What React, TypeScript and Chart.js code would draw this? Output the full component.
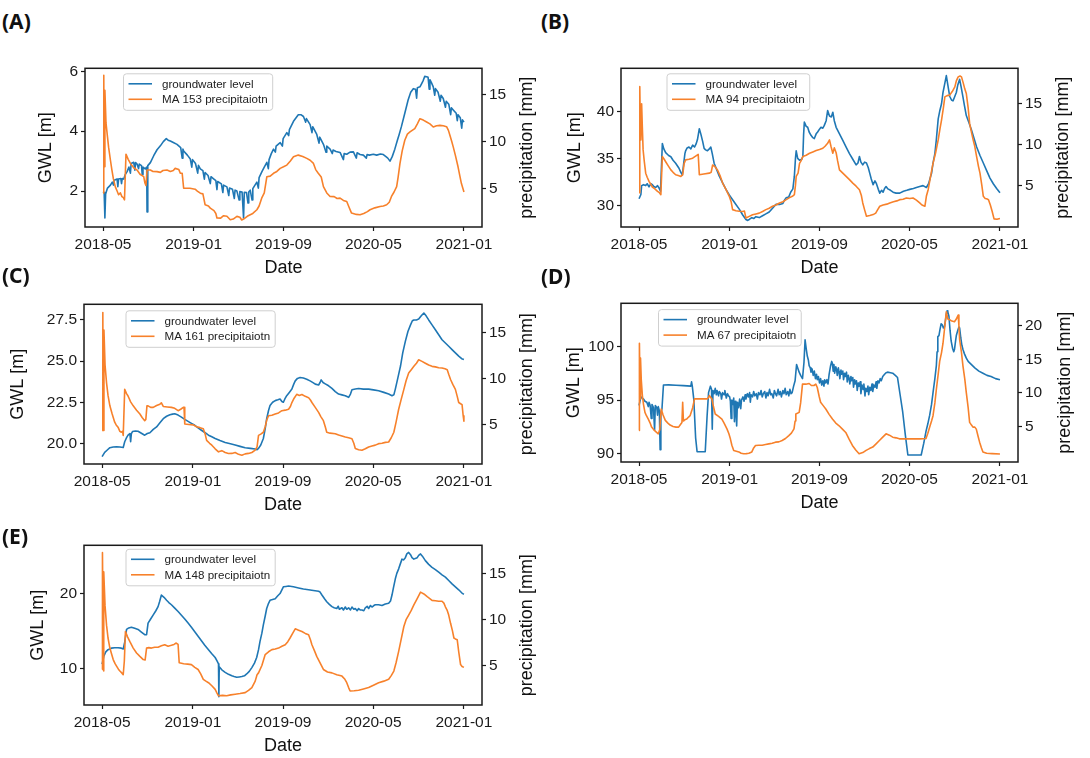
import React, { useEffect, useRef } from "react";
import { Chart, registerables } from "chart.js";

Chart.register(...registerables);

type Pt = [number, number];

// x values: days since 2018-05-01
const START_DATE = "2018-05-01";
const X_TICK_DAYS = [0, 245, 488, 731, 976];
const X_TICK_LABELS = ["2018-05", "2019-01", "2019-09", "2020-05", "2021-01"];
const X_MIN = -48.8;
const X_MAX = 1024.8;

const BLUE = "#1f77b4";
const ORANGE = "#f7812b";
const FONT = '"Liberation Sans", Arial, Helvetica, sans-serif';

// ---------------- Panel A ----------------
const gwlA: Pt[] = [[0,1.98],[3,1.95],[5,1.1],[7,1.9],[12,2.1],[20,2.2],[25,2.3],[28,2.2],[30,2.36],[38,2.4],[40,2.15],[42,2.4],[48,2.42],[50,2.25],[52,2.42],[56,2.4],[60,2.55],[65,2.65],[70,2.8],[74,2.6],[76,2.92],[83,2.96],[86,2.7],[88,2.95],[92,2.9],[96,2.75],[98,2.9],[104,2.85],[106,2.55],[108,2.8],[114,2.74],[118,2.8],[119,1.3],[121,2.85],[128,2.95],[137,3.18],[146,3.38],[155,3.51],[163,3.65],[171,3.75],[176,3.7],[182,3.67],[190,3.62],[200,3.56],[210,3.45],[214,3.1],[216,3.4],[218,3.34],[228,3.2],[236,3.07],[240,2.8],[242,3.05],[250,2.92],[256,2.6],[258,2.86],[263,2.74],[270,2.68],[274,2.4],[276,2.62],[284,2.52],[290,2.25],[292,2.48],[299,2.41],[305,2.35],[308,2.05],[310,2.32],[320,2.24],[324,1.95],[326,2.2],[335,2.14],[340,1.85],[342,2.1],[350,2.06],[355,1.75],[357,2.03],[362,2.0],[368,1.7],[370,1.98],[376,1.97],[380,1.1],[382,1.96],[388,1.95],[392,1.6],[394,1.97],[398,2.03],[403,1.7],[405,2.08],[410,2.18],[416,2.3],[420,2.1],[422,2.45],[430,2.66],[436,2.8],[443,2.96],[447,2.75],[449,3.05],[455,3.25],[461,3.4],[466,3.3],[468,3.5],[479,3.62],[485,3.5],[487,3.75],[497,3.95],[502,3.85],[504,4.05],[515,4.33],[522,4.45],[528,4.55],[535,4.55],[542,4.49],[548,4.3],[550,4.42],[560,4.22],[565,3.95],[567,4.15],[578,3.89],[584,3.6],[586,3.8],[596,3.56],[603,3.3],[605,3.5],[614,3.4],[620,3.25],[622,3.37],[630,3.32],[641,3.29],[650,3.05],[652,3.25],[659,3.23],[668,3.3],[677,3.31],[685,3.1],[687,3.28],[695,3.22],[704,3.2],[712,3.1],[714,3.22],[720,3.2],[731,3.23],[740,3.2],[750,3.24],[758,3.22],[765,3.15],[770,3.1],[776,3.0],[782,3.15],[789,3.4],[796,3.7],[801,3.9],[807,4.16],[815,4.55],[825,5.04],[832,5.3],[839,5.42],[845,5.4],[848,5.1],[850,5.45],[857,5.48],[862,5.6],[866,5.7],[870,5.83],[875,5.82],[879,5.8],[882,5.4],[884,5.72],[888,5.62],[893,5.48],[897,5.2],[899,5.42],[906,5.3],[912,5.0],[914,5.2],[920,5.09],[926,4.8],[928,5.0],[935,4.9],[940,4.55],[942,4.78],[947,4.71],[955,4.6],[958,4.35],[960,4.55],[966,4.45],[970,4.1],[972,4.38],[976,4.3]];
const preA: Pt[] = [[0,4.5],[2,17.1],[3,7.3],[5,15.5],[8,12.0],[12,10.5],[15,9.4],[20,8.0],[24,6.95],[28,6.0],[33,5.18],[38,4.7],[42,4.3],[47,4.5],[51,4.1],[55,4.0],[58,3.76],[62,8.65],[68,8.1],[74,7.66],[83,7.2],[92,6.95],[100,6.5],[110,6.24],[113,5.6],[116,5.3],[119,6.95],[128,6.95],[135,6.8],[146,6.78],[155,6.7],[162,6.9],[173,6.95],[182,6.8],[190,6.9],[195,7.13],[205,7.0],[209,6.6],[214,6.6],[218,5.0],[235,5.0],[249,4.9],[255,4.7],[263,4.47],[270,4.4],[276,3.23],[285,3.1],[290,2.87],[300,2.6],[305,2.3],[308,1.81],[318,1.8],[326,2.06],[335,2.0],[344,1.63],[352,1.7],[362,1.99],[370,1.9],[375,1.6],[380,1.7],[390,2.0],[398,2.17],[405,2.3],[416,2.7],[422,3.1],[429,3.94],[436,4.5],[443,6.24],[452,6.3],[461,6.6],[470,6.8],[479,7.13],[488,7.3],[497,7.48],[506,7.9],[515,8.37],[528,8.55],[540,8.4],[551,8.2],[560,8.0],[569,7.66],[575,7.0],[582,6.6],[590,6.2],[596,5.18],[605,4.5],[614,4.12],[625,4.1],[633,3.9],[641,3.94],[650,3.7],[659,3.58],[665,3.0],[672,2.34],[685,2.2],[695,2.17],[705,2.3],[715,2.5],[722,2.7],[735,2.9],[749,3.05],[758,3.1],[767,3.23],[774,3.5],[780,4.12],[787,4.6],[794,5.18],[798,6.2],[803,7.66],[809,9.0],[816,10.14],[823,10.8],[830,11.03],[836,11.2],[843,11.39],[850,11.9],[857,12.45],[866,12.3],[875,12.1],[884,11.9],[893,11.56],[902,11.7],[911,11.74],[920,11.7],[929,11.6],[934,11.2],[938,10.68],[943,10.0],[947,9.43],[953,8.5],[960,7.3],[965,6.3],[969,5.53],[973,5.0],[976,4.6]];
const gwlTicksA = [2, 4, 6];
const preTicksA = [5, 10, 15];

// ---------------- Panel B ----------------
const gwlB: Pt[] = [[0,30.7],[5,31.15],[7,32.1],[12,32.2],[18,32.1],[22,32.3],[27,31.96],[32,32.3],[36,32.2],[40,32.0],[45,31.9],[50,32.1],[54,31.85],[58,31.5],[60,33.5],[63,36.57],[67,36.0],[72,35.6],[80,35.3],[86,35.17],[92,34.8],[99,34.48],[108,33.95],[113,33.5],[117,33.25],[120,34.2],[124,35.5],[126,35.8],[130,36.1],[135,36.2],[140,36.0],[145,36.4],[150,36.2],[154,36.5],[158,37.0],[163,38.15],[167,37.6],[172,36.8],[176,36.05],[180,35.9],[185,35.8],[190,36.0],[194,36.2],[198,35.5],[203,34.48],[210,33.8],[217,33.1],[226,32.4],[235,31.7],[244,31.1],[253,30.6],[262,30.1],[271,29.6],[280,29.0],[289,28.5],[294,28.4],[298,28.5],[305,28.7],[310,28.6],[316,28.8],[325,28.7],[334,28.9],[343,29.1],[352,29.3],[361,29.7],[370,30.1],[380,30.1],[389,30.2],[394,30.6],[398,30.8],[405,30.9],[410,31.4],[416,31.75],[420,33.1],[423,35.0],[425,35.8],[429,35.0],[434,34.8],[440,34.9],[443,35.2],[445,37.5],[447,38.85],[452,38.4],[456,38.3],[460,37.8],[465,37.45],[470,37.2],[474,37.1],[479,37.6],[483,37.8],[488,38.1],[492,38.3],[497,38.2],[501,38.5],[506,39.0],[510,40.07],[515,39.5],[520,39.4],[524,39.9],[528,39.0],[533,38.3],[542,37.6],[551,36.9],[560,36.2],[569,35.5],[578,34.9],[587,34.3],[592,34.5],[596,35.2],[600,34.6],[605,34.3],[610,34.6],[615,34.5],[620,34.0],[624,33.4],[628,32.8],[633,32.2],[638,32.6],[642,32.3],[647,31.7],[651,31.3],[656,31.6],[660,31.4],[664,31.8],[668,32.0],[673,31.75],[680,31.6],[687,31.4],[695,31.3],[705,31.3],[715,31.5],[724,31.6],[732,31.7],[742,31.8],[750,31.9],[759,32.0],[768,32.1],[777,31.9],[783,32.3],[788,33.0],[791,33.4],[795,34.5],[800,35.5],[804,37.0],[809,39.2],[813,40.0],[818,40.8],[822,42.0],[827,43.0],[831,43.8],[835,42.8],[840,41.6],[845,41.2],[849,41.1],[853,41.5],[858,42.0],[862,42.8],[867,43.4],[871,42.6],[876,41.5],[880,40.6],[885,39.55],[892,38.8],[899,38.0],[906,37.1],[913,36.2],[922,35.3],[931,34.5],[940,33.7],[949,32.9],[958,32.3],[967,31.8],[976,31.35]];
const preB: Pt[] = [[0,4.1],[2,17.1],[4,11.0],[5,10.57],[7,15.0],[9,12.0],[11,9.35],[14,8.0],[18,6.5],[22,6.0],[27,5.5],[31,5.2],[36,4.8],[42,4.6],[50,4.27],[55,4.1],[59,3.86],[63,8.54],[68,8.2],[72,7.9],[79,7.4],[86,6.9],[92,6.6],[99,6.3],[106,6.2],[113,6.1],[118,6.3],[122,7.7],[126,8.13],[135,8.2],[145,8.33],[150,8.5],[158,8.74],[160,8.8],[163,6.3],[175,6.4],[190,6.5],[195,6.6],[199,7.5],[205,7.3],[212,6.9],[219,6.2],[226,5.28],[235,4.5],[244,3.66],[249,3.0],[253,2.03],[262,1.9],[271,1.83],[280,1.8],[285,1.85],[289,1.0],[298,1.2],[307,1.4],[316,1.5],[325,1.6],[334,1.8],[343,2.03],[352,2.2],[361,2.44],[370,2.6],[380,2.85],[389,3.0],[398,3.25],[407,3.5],[416,3.7],[420,3.86],[423,5.0],[425,6.1],[430,6.5],[434,7.7],[438,8.0],[443,8.54],[452,8.7],[461,8.94],[470,9.1],[479,9.27],[488,9.4],[497,9.55],[503,9.8],[510,10.16],[515,10.57],[519,9.8],[524,8.94],[528,9.6],[533,9.0],[537,8.0],[542,6.9],[551,6.5],[560,6.1],[569,5.7],[578,5.28],[587,4.9],[596,4.47],[601,3.8],[605,2.85],[610,2.0],[615,1.22],[624,1.3],[633,1.42],[640,1.6],[645,2.0],[651,2.44],[660,2.6],[670,2.7],[678,2.85],[688,3.0],[697,3.1],[705,3.25],[714,3.3],[723,3.45],[732,3.4],[741,3.45],[750,3.2],[759,2.85],[765,2.6],[773,2.44],[777,3.66],[782,4.5],[788,6.0],[795,7.7],[802,9.0],[809,10.57],[814,12.0],[818,13.0],[823,14.5],[827,15.85],[833,16.0],[840,16.06],[847,16.5],[854,17.07],[858,17.8],[863,18.3],[868,18.4],[872,18.3],[877,17.5],[881,16.8],[885,16.26],[890,14.5],[894,12.6],[899,11.5],[904,10.5],[908,9.76],[913,8.5],[918,7.3],[922,6.5],[927,5.0],[931,3.66],[936,3.4],[940,3.35],[945,3.25],[950,2.6],[955,1.8],[960,0.9],[968,0.85],[976,0.95]];
const gwlTicksB = [30, 35, 40];
const preTicksB = [5, 10, 15];

// ---------------- Panel C ----------------
const gwlC: Pt[] = [[0,19.2],[7,19.46],[14,19.6],[21,19.74],[30,19.78],[39,19.8],[48,19.78],[57,19.75],[61,20.1],[66,20.35],[70,20.5],[75,20.6],[77,20.1],[79,20.6],[82,20.72],[90,20.75],[97,20.74],[106,20.62],[115,20.5],[122,20.6],[129,20.65],[138,20.85],[147,21.0],[156,21.25],[165,21.5],[174,21.65],[183,21.74],[190,21.78],[196,21.8],[205,21.72],[214,21.6],[223,21.46],[232,21.34],[241,21.22],[250,21.1],[259,20.95],[268,20.8],[278,20.65],[287,20.5],[296,20.4],[305,20.3],[318,20.18],[332,20.06],[346,19.98],[359,19.9],[372,19.82],[386,19.74],[400,19.7],[413,19.66],[418,19.62],[422,19.7],[428,19.9],[435,20.3],[440,20.9],[444,21.5],[449,22.0],[453,22.3],[460,22.5],[467,22.6],[474,22.65],[480,22.7],[485,22.55],[489,22.5],[493,22.7],[498,22.9],[505,23.1],[512,23.3],[517,23.6],[521,23.8],[527,23.95],[534,24.0],[543,23.97],[552,23.9],[561,23.8],[570,23.68],[575,23.6],[584,23.55],[588,23.7],[591,23.86],[596,23.7],[602,23.62],[611,23.5],[620,23.34],[629,23.15],[638,23.0],[647,22.95],[656,22.9],[665,22.8],[670,23.0],[674,23.26],[683,23.3],[692,23.34],[705,23.3],[719,23.3],[732,23.25],[746,23.2],[760,23.1],[773,23.0],[782,22.9],[787,22.95],[791,23.3],[798,24.0],[805,24.7],[811,25.5],[818,26.2],[825,26.8],[832,27.2],[837,27.45],[841,27.5],[848,27.5],[854,27.55],[861,27.75],[868,27.92],[874,27.75],[881,27.5],[890,27.2],[899,26.9],[908,26.6],[917,26.3],[926,26.1],[935,25.9],[944,25.7],[953,25.5],[962,25.3],[970,25.15],[976,25.1]];
const preC: Pt[] = [[0,4.4],[2,17.2],[3,4.4],[5,15.3],[8,11.5],[12,9.57],[16,8.2],[21,7.07],[27,6.2],[34,5.29],[38,5.0],[43,4.75],[48,4.3],[52,4.2],[55,4.3],[57,3.86],[61,8.86],[66,8.4],[70,8.14],[77,7.5],[84,7.07],[93,6.6],[102,6.18],[108,5.8],[115,5.46],[118,5.6],[121,7.07],[124,7.07],[131,6.9],[138,6.9],[147,7.1],[156,7.25],[160,7.4],[165,7.0],[176,6.95],[187,6.9],[196,6.8],[205,6.54],[212,6.7],[219,6.9],[221,6.9],[223,5.1],[234,5.05],[246,5.0],[255,4.8],[264,4.7],[273,4.57],[278,4.0],[282,3.32],[290,3.0],[296,2.79],[305,2.4],[314,2.07],[323,2.2],[332,2.0],[341,1.89],[350,1.9],[359,2.0],[368,1.8],[377,1.7],[386,1.85],[395,1.9],[404,2.0],[413,2.25],[418,2.6],[422,3.86],[428,4.0],[435,4.2],[440,4.8],[444,5.5],[449,6.0],[458,6.05],[467,6.18],[476,6.3],[485,6.54],[494,6.6],[503,6.7],[508,7.0],[512,7.43],[518,7.9],[525,8.32],[532,8.2],[539,8.3],[548,8.1],[557,7.96],[562,7.7],[566,7.43],[575,6.9],[584,6.36],[590,5.9],[597,5.46],[602,4.8],[606,4.2],[615,4.1],[629,4.04],[638,3.9],[647,3.8],[656,3.68],[665,3.6],[674,3.5],[679,3.0],[683,2.43],[692,2.3],[701,2.25],[710,2.4],[719,2.6],[728,2.7],[737,2.8],[746,2.96],[755,3.0],[764,3.1],[773,3.14],[780,3.6],[787,4.2],[793,5.3],[800,6.7],[807,7.8],[814,8.86],[820,9.8],[827,10.64],[834,11.0],[841,11.36],[848,11.7],[854,12.07],[863,11.9],[872,11.7],[881,11.5],[890,11.36],[899,11.3],[908,11.2],[917,11.18],[925,11.1],[931,11.0],[935,10.5],[940,9.93],[946,9.4],[953,8.86],[958,8.1],[962,7.43],[967,7.3],[971,7.2],[974,6.0],[976,5.4]];
const gwlTicksC = [20, 22.5, 25, 27.5];
const preTicksC = [5, 10, 15];

// ---------------- Panel D ----------------
const gwlD: Pt[] = [[0,94.5],[5,95.3],[12,95.1],[16,94.9],[21,94.8],[25,94.4],[27,94.8],[30,94.5],[33,93.3],[35,94.6],[39,94.3],[42,92.2],[44,94.5],[48,94.3],[50,93.6],[52,94.4],[55,94.0],[57,90.4],[59,93.8],[62,94.2],[66,96.4],[80,96.42],[100,96.38],[120,96.35],[140,96.3],[142,96.7],[144,96.3],[148,95.1],[153,91.5],[157,90.2],[170,90.2],[179,90.2],[184,93.5],[188,95.7],[193,96.3],[196,96.0],[198,92.3],[200,95.9],[203,95.6],[206,96.1],[209,95.5],[211,95.9],[215,95.4],[217,95.8],[221,95.6],[223,95.1],[226,95.7],[230,95.5],[232,95.9],[236,95.2],[239,95.6],[242,95.4],[245,95.3],[247,94.9],[249,93.3],[251,95.0],[254,94.6],[256,95.2],[258,93.0],[260,94.9],[262,94.0],[264,92.6],[266,94.8],[269,94.3],[272,95.1],[275,94.2],[277,95.0],[281,95.3],[284,94.9],[287,95.5],[289,95.1],[293,95.6],[296,95.3],[299,95.7],[301,94.8],[303,95.5],[307,95.3],[310,95.8],[313,95.4],[317,95.6],[320,95.1],[323,95.7],[327,95.5],[330,95.9],[333,95.3],[336,95.6],[340,95.8],[343,95.2],[346,95.7],[349,95.4],[353,96.0],[356,95.5],[359,95.6],[363,95.2],[366,95.9],[369,95.6],[372,95.4],[376,96.0],[379,95.5],[382,95.8],[385,95.3],[389,95.9],[392,95.6],[395,96.1],[398,95.5],[402,95.8],[405,95.4],[408,96.0],[411,95.6],[414,95.7],[418,96.3],[422,96.8],[426,98.3],[430,97.9],[433,97.6],[437,97.3],[442,97.0],[446,98.5],[449,100.6],[452,99.8],[455,99.1],[458,98.7],[460,98.2],[463,98.0],[465,97.6],[468,97.9],[471,97.3],[474,97.7],[477,97.0],[480,97.4],[482,96.9],[485,97.2],[488,96.6],[491,97.0],[494,96.4],[497,96.8],[500,96.3],[502,96.9],[505,96.6],[508,96.9],[511,96.5],[514,97.4],[518,98.2],[521,98.6],[523,98.4],[525,97.7],[527,98.3],[529,97.5],[532,98.1],[534,97.9],[536,97.3],[539,98.0],[541,97.6],[543,97.0],[546,97.8],[548,97.4],[551,97.7],[553,96.9],[556,97.5],[558,97.2],[561,97.6],[563,96.7],[566,97.3],[568,97.0],[570,96.5],[573,97.2],[575,96.8],[578,97.1],[580,96.2],[583,96.9],[585,96.5],[588,96.8],[590,95.9],[593,96.6],[595,96.3],[598,96.7],[600,95.6],[603,96.4],[606,96.0],[608,96.5],[611,95.4],[613,96.1],[616,95.8],[619,96.3],[621,95.5],[624,96.2],[627,95.9],[630,96.5],[632,95.8],[635,96.4],[638,96.2],[641,96.7],[643,96.1],[646,96.8],[649,96.6],[652,97.0],[655,96.8],[659,97.2],[664,97.4],[668,97.55],[672,97.6],[680,97.55],[686,97.5],[693,97.3],[699,97.1],[706,95.5],[713,93.9],[720,91.8],[727,89.9],[745,89.9],[763,89.9],[770,91.0],[776,92.1],[781,92.8],[786,93.6],[791,94.6],[795,95.7],[800,97.0],[804,98.2],[806,99.5],[808,100.9],[811,101.0],[814,101.6],[817,102.1],[820,102.0],[823,101.7],[826,101.8],[829,102.5],[831,103.0],[833,103.3],[835,103.2],[838,102.8],[841,101.5],[844,100.5],[848,99.8],[851,99.5],[853,99.7],[856,100.5],[858,101.0],[862,101.5],[865,101.8],[867,101.7],[870,100.8],[873,100.1],[876,99.7],[880,99.3],[885,98.9],[890,98.6],[899,98.3],[908,98.0],[919,97.7],[930,97.5],[941,97.3],[952,97.2],[964,97.0],[976,96.9]];
const preD: Pt[] = [[0,4.4],[1,17.4],[3,9.1],[4,15.2],[6,12.0],[9,9.6],[12,8.3],[16,7.1],[20,6.6],[25,6.1],[30,5.5],[34,4.9],[40,4.5],[46,4.2],[52,3.9],[56,4.5],[60,7.6],[65,6.7],[71,5.9],[78,5.5],[84,5.2],[92,5.0],[100,4.9],[107,4.9],[112,5.3],[116,5.6],[118,8.6],[120,5.8],[124,6.0],[129,6.1],[134,6.4],[138,6.6],[145,7.8],[150,9.1],[160,9.1],[170,9.1],[184,9.1],[188,9.3],[190,9.6],[194,9.3],[197,9.1],[201,8.0],[206,6.85],[215,6.5],[224,6.1],[230,5.5],[238,4.6],[243,3.9],[247,3.15],[251,2.2],[256,1.4],[263,1.3],[270,1.2],[276,1.0],[283,0.93],[290,0.95],[297,1.0],[305,1.2],[310,1.8],[315,2.17],[324,2.2],[333,2.2],[342,2.3],[351,2.4],[360,2.5],[369,2.66],[378,2.7],[387,2.9],[396,3.2],[405,3.64],[412,4.0],[419,4.63],[422,5.8],[424,6.85],[433,7.1],[437,8.5],[442,11.3],[451,11.3],[460,11.4],[466,11.1],[473,11.1],[478,11.3],[482,10.8],[487,9.5],[491,8.6],[498,8.1],[505,7.6],[514,6.8],[523,6.1],[532,5.5],[541,5.1],[550,4.6],[559,4.1],[568,3.1],[577,2.17],[586,1.5],[595,0.93],[605,1.1],[614,1.43],[623,1.7],[632,1.92],[641,2.4],[650,2.9],[659,3.4],[668,3.9],[677,3.7],[686,3.4],[695,3.3],[704,3.15],[718,3.15],[740,3.15],[760,3.15],[776,3.2],[781,4.0],[786,4.9],[791,5.8],[795,6.6],[800,8.5],[804,10.5],[809,12.8],[813,14.7],[818,16.0],[822,17.4],[827,20.0],[831,22.1],[835,21.0],[840,20.9],[846,20.7],[853,20.6],[858,21.0],[863,21.6],[865,20.0],[867,17.9],[872,16.0],[876,14.0],[881,12.0],[885,10.05],[890,7.8],[894,5.6],[899,5.2],[903,4.9],[908,4.9],[912,4.6],[917,3.5],[921,2.66],[926,1.8],[930,1.2],[940,1.0],[955,0.95],[976,0.9]];
const gwlTicksD = [90, 95, 100];
const preTicksD = [5, 10, 15, 20];

// ---------------- Panel E ----------------
const gwlE: Pt[] = [[0,10.57],[5,11.67],[10,12.2],[16,12.5],[25,12.7],[34,12.76],[43,12.75],[52,12.7],[57,12.6],[61,13.5],[66,15.2],[72,15.4],[79,15.5],[88,15.35],[97,15.2],[106,14.85],[115,14.5],[120,14.5],[124,16.05],[131,16.6],[138,17.15],[145,17.7],[151,18.25],[155,18.9],[160,19.8],[167,19.5],[174,19.1],[180,18.8],[187,18.5],[196,18.05],[205,17.6],[214,17.1],[223,16.6],[232,16.05],[241,15.5],[250,14.9],[259,14.3],[268,13.7],[277,13.1],[287,12.5],[296,11.95],[305,11.45],[310,11.0],[314,10.6],[315,6.2],[316,10.2],[323,9.8],[332,9.47],[341,9.2],[350,9.0],[356,8.9],[363,8.8],[370,8.85],[377,8.9],[384,9.0],[390,9.25],[397,9.6],[404,10.1],[411,10.7],[417,11.45],[422,12.5],[426,13.6],[431,14.7],[435,15.8],[440,17.0],[444,18.0],[449,18.7],[453,19.1],[460,19.2],[467,19.3],[474,19.7],[480,20.0],[485,20.5],[489,20.9],[496,20.95],[503,21.0],[516,20.9],[530,20.75],[543,20.6],[557,20.5],[570,20.4],[584,20.3],[588,20.2],[593,19.8],[600,19.3],[606,18.9],[613,18.55],[620,18.25],[626,18.1],[633,18.0],[637,18.3],[640,17.9],[647,18.1],[651,17.8],[656,18.2],[660,17.9],[665,18.1],[670,17.8],[674,18.2],[679,17.9],[683,18.0],[688,17.7],[692,18.0],[697,17.8],[701,17.8],[706,17.7],[710,18.1],[715,18.3],[719,18.0],[724,18.4],[728,18.2],[733,18.4],[737,18.5],[746,18.5],[755,18.4],[764,18.6],[773,18.7],[778,19.0],[782,19.8],[786,20.8],[791,21.97],[795,22.7],[800,23.3],[804,23.9],[809,24.6],[813,24.5],[818,24.8],[822,25.3],[827,25.5],[832,25.2],[836,24.8],[841,24.6],[845,24.7],[850,24.8],[854,25.1],[859,25.3],[864,25.0],[868,24.7],[872,24.4],[881,23.9],[890,23.5],[899,23.2],[908,22.85],[917,22.5],[926,22.2],[935,21.75],[944,21.3],[953,20.9],[962,20.5],[970,20.1],[976,19.9]];
const preE: Pt[] = [[0,4.57],[1,17.3],[3,8.0],[4,4.4],[5,15.2],[8,11.5],[12,9.4],[16,8.0],[21,6.9],[26,6.2],[30,5.65],[35,5.2],[39,4.93],[44,4.6],[48,4.4],[53,4.2],[57,4.0],[60,5.5],[63,8.7],[69,8.1],[75,7.6],[84,6.9],[93,6.37],[102,6.0],[111,5.65],[116,5.6],[120,6.9],[126,6.95],[133,6.9],[142,7.0],[151,7.0],[160,7.15],[169,7.27],[178,7.1],[187,7.2],[194,7.3],[200,7.45],[205,7.3],[208,5.3],[220,5.2],[231,5.15],[241,5.1],[250,4.8],[259,4.57],[266,4.1],[273,3.5],[280,3.3],[287,3.13],[296,2.8],[305,2.4],[310,2.0],[314,1.7],[325,1.75],[336,1.7],[347,1.8],[359,1.87],[372,1.95],[386,2.05],[395,2.3],[404,2.6],[413,3.3],[418,4.0],[422,4.2],[431,5.0],[440,6.2],[449,6.5],[458,6.73],[467,6.8],[476,6.9],[485,7.1],[494,7.27],[501,7.6],[507,8.0],[514,8.5],[521,9.0],[530,8.85],[539,8.7],[548,8.5],[557,8.35],[562,7.8],[566,7.27],[573,6.6],[579,6.0],[588,5.3],[597,4.57],[608,4.3],[620,4.2],[633,4.0],[647,3.85],[655,3.5],[660,3.13],[665,2.6],[669,2.23],[680,2.25],[692,2.3],[705,2.45],[719,2.6],[732,2.85],[746,3.13],[760,3.3],[773,3.5],[780,3.9],[787,4.4],[793,5.3],[800,6.55],[807,7.9],[814,9.25],[820,10.0],[827,10.5],[834,11.0],[841,11.6],[850,12.3],[859,13.0],[868,12.8],[877,12.5],[884,12.3],[890,12.1],[899,12.05],[908,12.0],[917,12.0],[922,11.8],[926,11.4],[931,11.0],[935,10.5],[940,9.6],[945,8.8],[949,8.0],[953,7.9],[958,7.8],[962,6.5],[967,5.1],[971,4.9],[976,4.8]];
const gwlTicksE = [10, 20];
const preTicksE = [5, 10, 15];

// ---------------- layout ----------------
const PAD_L = 80, PAD_R = 72, PAD_T = 10, PAD_B = 55;

interface PanelSpec {
  tag: string;
  gwl: Pt[];
  pre: Pt[];
  maLabel: string;
  gwlTicks: number[];
  preTicks: number[];
  gwlRange: [number, number];
  preRange: [number, number];
  decimals: number;
  box: { left: number; top: number; w: number; h: number };
  legend: { dx: number; dy: number };
  titleOff: { left: number; right: number };
  label: { x: number; y: number };
}

const PANELS: PanelSpec[] = [
  { tag: "(A)", gwl: gwlA, pre: preA, maLabel: "MA 153 precipitaiotn", gwlTicks: gwlTicksA, preTicks: preTicksA,
    gwlRange: [0.8, 6.1], preRange: [0.85, 17.85], decimals: 0,
    box: { left: 85, top: 66, w: 397, h: 161 }, legend: { dx: 38.5, dy: 5.5 },
    titleOff: { left: 38.5, right: 45 }, label: { x: 2, y: 9 } },
  { tag: "(B)", gwl: gwlB, pre: preB, maLabel: "MA 94 precipitaiotn", gwlTicks: gwlTicksB, preTicks: preTicksB,
    gwlRange: [27.7, 44.57], preRange: [-0.1, 19.35], decimals: 0,
    box: { left: 621, top: 66, w: 397, h: 161 }, legend: { dx: 46, dy: 5.5 },
    titleOff: { left: 46, right: 45.5 }, label: { x: 541, y: 9 } },
  { tag: "(C)", gwl: gwlC, pre: preC, maLabel: "MA 161 precipitaiotn", gwlTicks: gwlTicksC, preTicks: preTicksC,
    gwlRange: [18.75, 28.45], preRange: [0.75, 18.1], decimals: 1,
    box: { left: 84, top: 302, w: 398, h: 162 }, legend: { dx: 42, dy: 6.5 },
    titleOff: { left: 66, right: 45 }, label: { x: 2, y: 262.5 } },
  { tag: "(D)", gwl: gwlD, pre: preD, maLabel: "MA 67 precipitaiotn", gwlTicks: gwlTicksD, preTicks: preTicksD,
    gwlRange: [89.25, 104.0], preRange: [-0.3, 23.35], decimals: 0,
    box: { left: 621, top: 301, w: 397, h: 161 }, legend: { dx: 37.5, dy: 6.3 },
    titleOff: { left: 47, right: 47.5 }, label: { x: 541, y: 264 } },
  { tag: "(E)", gwl: gwlE, pre: preE, maLabel: "MA 148 precipitaiotn", gwlTicks: gwlTicksE, preTicks: preTicksE,
    gwlRange: [5.1, 26.45], preRange: [0.7, 18.1], decimals: 0,
    box: { left: 84, top: 543, w: 398, h: 162 }, legend: { dx: 42, dy: 4 },
    titleOff: { left: 46, right: 45.5 }, label: { x: 2, y: 524 } },
];

const toXY = (arr: Pt[]) => arr.map(([x, y]) => ({ x, y }));

const framePlugin = {
  id: "frame",
  afterDatasetsDraw(chart: any, _args: any, opts: any) {
    const { ctx, chartArea: a } = chart;
    ctx.save();
    // spines
    ctx.strokeStyle = "#1a1a1a";
    ctx.lineWidth = 1.5;
    ctx.strokeRect(a.left, a.top, a.right - a.left, a.bottom - a.top);

    // axis titles
    ctx.fillStyle = "#111";
    ctx.font = `18px ${FONT}`;
    ctx.textAlign = "center";
    ctx.textBaseline = "middle";
    ctx.fillText("Date", (a.left + a.right) / 2, a.bottom + 41);
    const cy = (a.top + a.bottom) / 2;
    ctx.save();
    ctx.translate(a.left - opts.leftOff, cy);
    ctx.rotate(-Math.PI / 2);
    ctx.fillText("GWL [m]", 0, 0);
    ctx.restore();
    ctx.save();
    ctx.translate(a.right + opts.rightOff, cy);
    ctx.rotate(-Math.PI / 2);
    ctx.fillText("precipitation [mm]", 0, 0);
    ctx.restore();

    // legend box
    const ds = chart.data.datasets;
    ctx.font = `11.6px ${FONT}`;
    const textW = Math.max(...ds.map((d: any) => ctx.measureText(d.label).width));
    const lx = a.left + opts.dx;
    const ly = a.top + opts.dy;
    const lw = 5 + 23.5 + 10 + textW + 5;
    const lh = 36.5;
    ctx.beginPath();
    const r = 3;
    ctx.moveTo(lx + r, ly);
    ctx.lineTo(lx + lw - r, ly);
    ctx.arcTo(lx + lw, ly, lx + lw, ly + r, r);
    ctx.lineTo(lx + lw, ly + lh - r);
    ctx.arcTo(lx + lw, ly + lh, lx + lw - r, ly + lh, r);
    ctx.lineTo(lx + r, ly + lh);
    ctx.arcTo(lx, ly + lh, lx, ly + lh - r, r);
    ctx.lineTo(lx, ly + r);
    ctx.arcTo(lx, ly, lx + r, ly, r);
    ctx.closePath();
    ctx.fillStyle = "rgba(255,255,255,0.8)";
    ctx.fill();
    ctx.strokeStyle = "#cfcfcf";
    ctx.lineWidth = 1;
    ctx.stroke();
    ds.forEach((d: any, i: number) => {
      const yy = ly + 10 + i * 15.5;
      ctx.strokeStyle = d.borderColor;
      ctx.lineWidth = 1.6;
      ctx.beginPath();
      ctx.moveTo(lx + 5, yy);
      ctx.lineTo(lx + 28.5, yy);
      ctx.stroke();
      ctx.fillStyle = "#222";
      ctx.textAlign = "left";
      ctx.textBaseline = "middle";
      ctx.fillText(d.label, lx + 38.5, yy + 0.5);
    });
    ctx.restore();
  },
};

function makeConfig(p: PanelSpec): any {
  const tickFont = { family: FONT, size: 15.5 };
  const gridCommon = {
    display: true,
    drawOnChartArea: false,
    drawTicks: true,
    tickLength: 4,
    tickWidth: 1.2,
    tickColor: "#1a1a1a",
  };
  return {
    type: "line",
    data: {
      datasets: [
        {
          label: "groundwater level",
          data: toXY(p.gwl),
          yAxisID: "y",
          borderColor: BLUE,
          backgroundColor: BLUE,
          borderWidth: 1.6,
          pointRadius: 0,
          borderJoinStyle: "round",
          tension: 0,
          order: 1,
        },
        {
          label: p.maLabel,
          data: toXY(p.pre),
          yAxisID: "y1",
          borderColor: ORANGE,
          backgroundColor: ORANGE,
          borderWidth: 1.6,
          pointRadius: 0,
          borderJoinStyle: "round",
          tension: 0,
          order: 0,
        },
      ],
    },
    options: {
      animation: false,
      responsive: false,
      devicePixelRatio: 1,
      events: [],
      layout: { padding: { top: PAD_T, left: 0, right: 0, bottom: 0 } },
      plugins: {
        legend: { display: false },
        tooltip: { enabled: false },
        frame: { dx: p.legend.dx, dy: p.legend.dy, leftOff: p.titleOff.left, rightOff: p.titleOff.right },
      },
      scales: {
        x: {
          type: "linear",
          position: "bottom",
          min: X_MIN,
          max: X_MAX,
          afterBuildTicks: (s: any) => { s.ticks = X_TICK_DAYS.map((v) => ({ value: v })); },
          afterFit: (s: any) => { s.height = PAD_B; },
          ticks: {
            font: tickFont,
            color: "#1a1a1a",
            padding: 4,
            maxRotation: 0,
            autoSkip: false,
            callback: (v: number) => X_TICK_LABELS[X_TICK_DAYS.indexOf(v)] ?? "",
          },
          grid: gridCommon,
          border: { display: false },
        },
        y: {
          type: "linear",
          position: "left",
          min: p.gwlRange[0],
          max: p.gwlRange[1],
          afterBuildTicks: (s: any) => { s.ticks = p.gwlTicks.map((v) => ({ value: v })); },
          afterFit: (s: any) => { s.width = PAD_L; },
          ticks: {
            font: tickFont,
            color: "#1a1a1a",
            padding: 3,
            callback: (v: number) => v.toFixed(p.decimals),
          },
          grid: gridCommon,
          border: { display: false },
        },
        y1: {
          type: "linear",
          position: "right",
          min: p.preRange[0],
          max: p.preRange[1],
          afterBuildTicks: (s: any) => { s.ticks = p.preTicks.map((v) => ({ value: v })); },
          afterFit: (s: any) => { s.width = PAD_R; },
          ticks: {
            font: tickFont,
            color: "#1a1a1a",
            padding: 3,
            callback: (v: number) => String(v),
          },
          grid: gridCommon,
          border: { display: false },
        },
      },
    },
    plugins: [framePlugin],
  };
}

function Panel({ p }: { p: PanelSpec }) {
  const ref = useRef<HTMLCanvasElement>(null);
  const W = PAD_L + p.box.w + PAD_R;
  const H = PAD_T + p.box.h + PAD_B;
  useEffect(() => {
    const chart = new Chart(ref.current as HTMLCanvasElement, makeConfig(p));
    return () => chart.destroy();
  }, [p]);
  return (
    <>
      <canvas
        ref={ref}
        width={W}
        height={H}
        style={{ position: "absolute", left: p.box.left - PAD_L, top: p.box.top - PAD_T, width: W, height: H }}
      />
      <div
        style={{
          position: "absolute",
          left: p.label.x,
          top: p.label.y,
          fontFamily: '"Noto Sans", "Open Sans", sans-serif',
          fontWeight: 700,
          fontSize: 21,
          lineHeight: "24px",
          color: "#111",
          whiteSpace: "nowrap",
        }}
      >
        {p.tag}
      </div>
    </>
  );
}

export default function App() {
  return (
    <div
      data-start={START_DATE}
      style={{ position: "absolute", left: 0, top: 0, width: 1090, height: 758, overflow: "hidden", background: "#fff" }}
    >
      {PANELS.map((p) => (
        <Panel key={p.tag} p={p} />
      ))}
    </div>
  );
}
